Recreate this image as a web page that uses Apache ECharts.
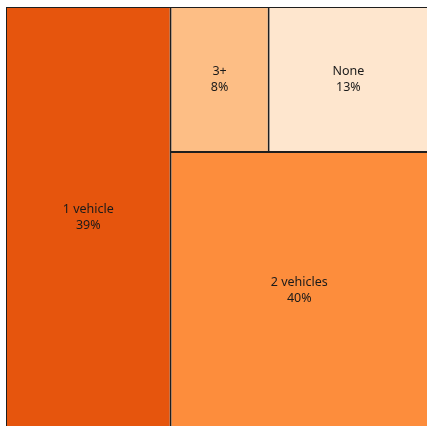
<!DOCTYPE html>
<html>
<head>
<meta charset="utf-8">
<script src="https://cdn.jsdelivr.net/npm/echarts@6/dist/echarts.min.js"></script>
<style>
  html, body { margin: 0; padding: 0; background: #fff; }
  #main { width: 427px; height: 426px; }
</style>
</head>
<body>
<div id="main"></div>
<script>
// order matters: squarify lays out in this order (sort off)
var categories = ['1 vehicle', '3+', 'None', '2 vehicles'];
var shares = [39, 8, 13, 40];
var colors = ['#e6550d', '#fdbe85', '#fee6ce', '#fd8d3c'];

var data = categories.map(function (name, i) {
    return { name: name, value: shares[i], itemStyle: { color: colors[i] } };
});

var chart = echarts.init(document.getElementById('main'));
chart.setOption({
    animation: false,
    series: [{
        type: 'treemap',
        left: 6,
        top: 7,
        width: 422,
        height: 421,
        sort: false,
        squareRatio: 1,
        roam: false,
        nodeClick: false,
        breadcrumb: { show: false },
        label: {
            show: true,
            position: 'inside',
            align: 'center',
            verticalAlign: 'middle',
            formatter: '{b}\n{c}%',
            color: '#1a1a1a',
            fontFamily: 'Noto Sans',
            fontSize: 12.5,
            lineHeight: 16,
            padding: [3, 0, 0, 0]
        },
        levels: [
            { itemStyle: { borderWidth: 1, gapWidth: 2, borderColor: '#1e1e1e' } },
            { itemStyle: { borderWidth: 0, gapWidth: 0 } }
        ],
        data: data
    }]
});
</script>
</body>
</html>
